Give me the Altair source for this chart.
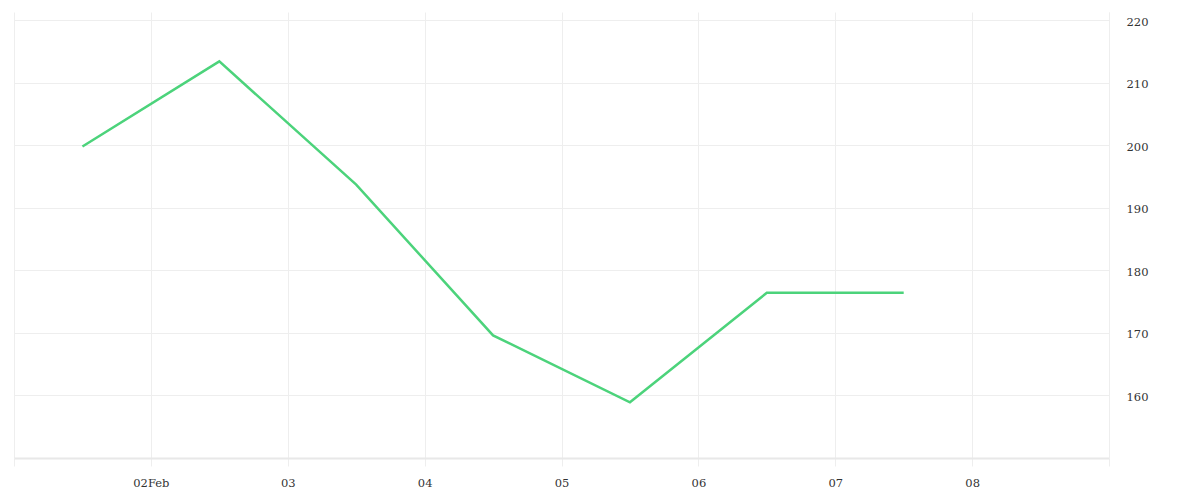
import altair as alt
import pandas as pd

dates = [
    "2024-02-01T12:00:00Z",
    "2024-02-02T12:00:00Z",
    "2024-02-03T12:00:00Z",
    "2024-02-04T12:00:00Z",
    "2024-02-05T12:00:00Z",
    "2024-02-06T12:00:00Z",
    "2024-02-07T12:00:00Z",
]
values = [199.8, 213.4, 193.7, 169.6, 158.9, 176.4, 176.4]
tick_days = [1, 2, 3, 4, 5, 6, 7, 8, 9]
y_ticks = [160, 170, 180, 190, 200, 210, 220]

df = pd.DataFrame({"date": dates, "value": values})

FONT = "DejaVu Serif"

x_ticks = [alt.DateTime(year=2024, month=2, date=d, utc=True) for d in tick_days]

label_expr = (
    "utcdate(datum.value) == 1 || utcdate(datum.value) == 9 ? '' : "
    "(utcdate(datum.value) == 2 ? utcFormat(datum.value, '%d%b') : utcFormat(datum.value, '%d'))"
)

chart = (
    alt.Chart(df)
    .mark_line(color="#4cd37b", strokeWidth=2.5)
    .encode(
        x=alt.X(
            "date:T",
            scale=alt.Scale(
                type="utc",
                domain=[
                    alt.DateTime(year=2024, month=2, date=1, utc=True),
                    alt.DateTime(year=2024, month=2, date=9, utc=True),
                ],
            ),
            axis=alt.Axis(
                values=x_ticks,
                labelExpr=label_expr,
                title=None,
                grid=True,
                gridColor="#eeeeee",
                tickColor="#eeeeee",
                tickSize=8,
                domainColor="#e8e8e8",
                domainWidth=2,
                labelFont=FONT,
                labelFontSize=11.5,
                labelColor="#333333",
                labelPadding=11,
            ),
        ),
        y=alt.Y(
            "value:Q",
            scale=alt.Scale(domain=[150, 221.3], nice=False, zero=False),
            axis=alt.Axis(
                orient="right",
                values=y_ticks,
                title=None,
                ticks=False,
                grid=True,
                gridColor="#eeeeee",
                domainColor="#eeeeee",
                labelFont=FONT,
                labelFontSize=11.5,
                labelColor="#333333",
                labelPadding=17,
                labelOffset=2,
            ),
        ),
    )
    .properties(
        width=1095,
        height=446,
        padding={"left": 5, "top": 4, "right": 5, "bottom": 5},
    )
    .configure_view(stroke=None)
)

chart.save("out.html", embed_options={"renderer": "svg", "actions": False})
